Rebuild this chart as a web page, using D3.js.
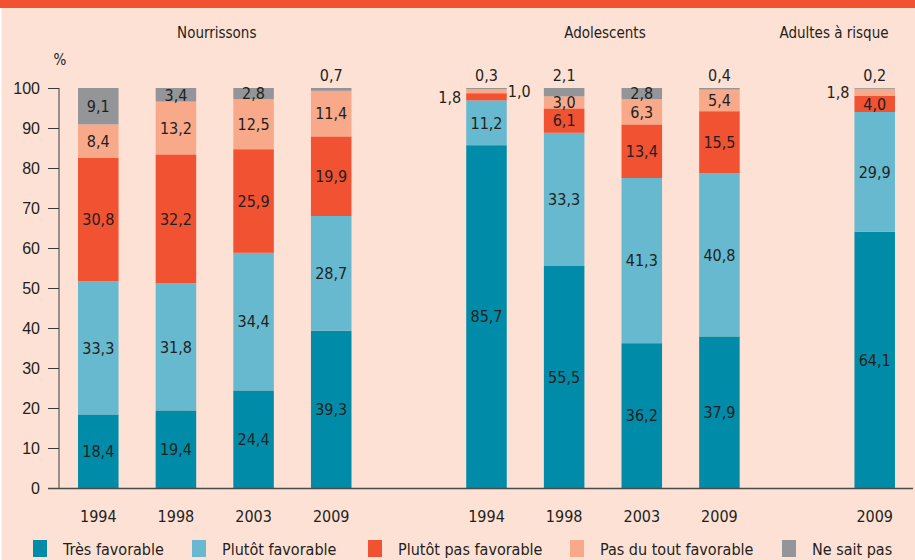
<!doctype html>
<html lang="fr">
<head>
<meta charset="utf-8">
<title>Opinion vaccination hépatite B</title>
<style>
  body { margin: 0; background: #fde1d5; }
  svg { display: block; font-family: "Liberation Sans Narrow", "DejaVu Sans Condensed", "Liberation Sans", sans-serif; }
</style>
</head>
<body>
<div id="chart"></div>
<script src="https://cdn.jsdelivr.net/npm/d3@7"></script>
<script>
// groups and years (slot ids, empty slots keep the gaps between groups)
const groups = ["Nourrissons", "Adolescents", "Adultes à risque"];
const slots = ["N1994", "N1998", "N2003", "N2009", "gapA", "A1994", "A1998", "A2003", "A2009", "gapB", "R2009"];
const years = ["1994", "1998", "2003", "2009", "1994", "1998", "2003", "2009", "2009"];
const barSlots = ["N1994", "N1998", "N2003", "N2009", "A1994", "A1998", "A2003", "A2009", "R2009"];
const barGroup = [0, 0, 0, 0, 1, 1, 1, 1, 2];

const series = ["Très favorable", "Plutôt favorable", "Plutôt pas favorable", "Pas du tout favorable", "Ne sait pas"];
const colors = ["#008ca8", "#66b9cf", "#f05232", "#f7a98a", "#939598"];

// values per series, one per bar
const tresFavorable   = [18.4, 19.4, 24.4, 39.3, 85.7, 55.5, 36.2, 37.9, 64.1];
const plutotFavorable = [33.3, 31.8, 34.4, 28.7, 11.2, 33.3, 41.3, 40.8, 29.9];
const plutotPas       = [30.8, 32.2, 25.9, 19.9, 1.8, 6.1, 13.4, 15.5, 4.0];
const pasDuTout       = [8.4, 13.2, 12.5, 11.4, 1.0, 3.0, 6.3, 5.4, 1.8];
const neSaitPas       = [9.1, 3.4, 2.8, 0.7, 0.3, 2.1, 2.8, 0.4, 0.2];
const yTicks = [0, 10, 20, 30, 40, 50, 60, 70, 80, 90, 100];

const width = 915, height = 560;
const svg = d3.select("#chart").append("svg")
  .attr("width", width).attr("height", height);

// background + top banner
svg.append("rect").attr("x", 0).attr("y", 0).attr("width", width).attr("height", height).attr("fill", "#fde1d5");
svg.append("rect").attr("x", 0).attr("y", 0).attr("width", 1.5).attr("height", height).attr("fill", "#ffffff");
svg.append("rect").attr("x", 0).attr("y", 0).attr("width", width).attr("height", 8).attr("fill", "#f05232");

const x = d3.scaleBand().domain(slots).range([59, 914]).paddingInner(0.478).paddingOuter(0.245);
const y = d3.scaleLinear().domain([0, 100]).range([488, 88]);

const rows = barSlots.map((s, i) => {
  const vals = [tresFavorable[i], plutotFavorable[i], plutotPas[i], pasDuTout[i], neSaitPas[i]];
  let acc = 0;
  const segs = vals.map((v, k) => { const s0 = acc; acc += v; return { k, v, y0: s0, y1: acc }; });
  return { slot: s, year: years[i], group: barGroup[i], segs };
});

const txtCol = "#231f20";
const fmt = v => d3.format(".1f")(v).replace(".", ",");

// y axis
const yAxis = svg.append("g").attr("transform", "translate(59,0)")
  .call(d3.axisLeft(y).tickValues(yTicks).tickSize(11).tickPadding(8));
yAxis.select(".domain").attr("stroke", "#3a3a3a").attr("d", "M0,88V488");
yAxis.selectAll(".tick line").attr("stroke", "#3a3a3a");
yAxis.selectAll(".tick text").attr("font-size", 16).attr("fill", txtCol)
  .style("font-family", "inherit");

svg.append("text").attr("x", 60).attr("y", 65).attr("text-anchor", "middle")
  .attr("font-size", 15).attr("fill", txtCol).text("%");

// bars
const bars = svg.append("g").selectAll("g").data(rows).join("g")
  .attr("transform", d => `translate(${x(d.slot)},0)`);
bars.selectAll("rect").data(d => d.segs).join("rect")
  .attr("x", 0).attr("width", x.bandwidth())
  .attr("y", d => y(d.y1)).attr("height", d => y(d.y0) - y(d.y1))
  .attr("fill", d => colors[d.k]);

// x axis line (no ticks)
svg.append("line").attr("x1", 48).attr("x2", 913).attr("y1", 488.5).attr("y2", 488.5)
  .attr("stroke", "#4a4a4a").attr("stroke-width", 1.3);

// segment labels
bars.each(function(d) {
  const g = d3.select(this);
  const bw = x.bandwidth();
  let side = 0;
  d.segs.forEach(s => {
    const top = s.k === d.segs.length - 1;
    const mid = (y(s.y0) + y(s.y1)) / 2;
    let tx = bw / 2, ty = mid, anchor = "middle";
    if (s.v < 2.5) {
      if (top) { ty = y(s.y1) - 13; }
      else if (side++ === 0) { tx = -5; anchor = "end"; }
      else { tx = bw + 1; anchor = "start"; }
    }
    g.append("text").attr("x", tx).attr("y", ty).attr("dy", "0.36em")
      .attr("text-anchor", anchor).attr("font-size", 16).attr("fill", txtCol)
      .text(fmt(s.v));
  });
});

// year labels
svg.append("g").selectAll("text").data(rows).join("text")
  .attr("x", d => x(d.slot) + x.bandwidth() / 2).attr("y", 522)
  .attr("text-anchor", "middle").attr("font-size", 16).attr("fill", txtCol)
  .text(d => d.year);

// group headings
svg.append("g").selectAll("text").data(groups).join("text")
  .attr("x", (g, i) => {
    const r = rows.filter(d => d.group === i);
    const a = x(r[0].slot), b = x(r[r.length - 1].slot) + x.bandwidth();
    return i === 2 ? 834 : (a + b) / 2 + 2;
  })
  .attr("y", 38).attr("text-anchor", "middle").attr("font-size", 15).attr("fill", txtCol)
  .text(g => g);

// legend
const legX = [33, 192, 368, 570, 782];
const leg = svg.append("g").selectAll("g").data(series).join("g")
  .attr("transform", (d, i) => `translate(${legX[i]},540)`);
leg.append("rect").attr("width", 14).attr("height", 17).attr("fill", (d, i) => colors[i]);
leg.append("text").attr("x", 30).attr("y", 15).attr("font-size", 16).attr("fill", txtCol).text(d => d);
</script>
</body>
</html>
